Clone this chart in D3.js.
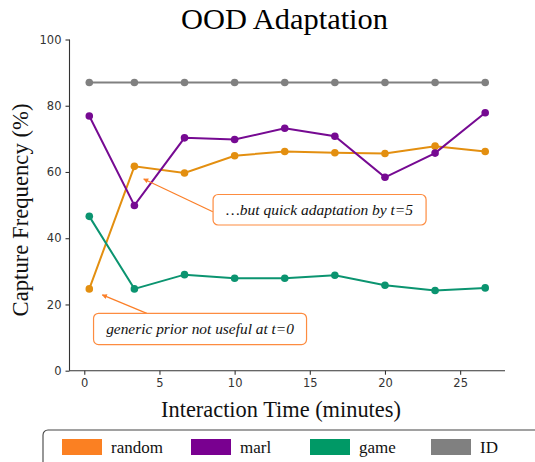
<!DOCTYPE html>
<html><head><meta charset="utf-8">
<script src="https://cdn.jsdelivr.net/npm/d3@7"></script>
<style>body{margin:0;background:#fff}svg{display:block}</style>
</head><body>
<svg id="c" width="535" height="462"></svg>
<script>
const times = [1/3, 10/3, 20/3, 10, 40/3, 50/3, 20, 70/3, 80/3];
const seriesNames = ["random", "marl", "game", "ID"];
const randomVals = [24.7, 61.7, 59.7, 64.9, 66.2, 65.8, 65.6, 67.8, 66.2];
const marlVals   = [76.9, 49.9, 70.3, 69.8, 73.2, 70.8, 58.4, 65.7, 77.9];
const gameVals   = [46.6, 24.7, 29.0, 27.9, 27.9, 28.8, 25.8, 24.2, 25.0];
const idVals     = [87, 87, 87, 87, 87, 87, 87, 87, 87];
const xTicks = [0, 5, 10, 15, 20, 25];
const yTicks = [0, 20, 40, 60, 80, 100];
const lineColors   = ["#e38f10", "#760a92", "#0b9470", "#808080"];
const legendColors = ["#fb8022", "#790090", "#009966", "#808080"];
const annTexts  = ["\u2026but quick adaptation by t=5", "generic prior not useful at t=0"];
const annTarget = [[3.95, 57.9], [1.2, 22.9]];   // arrow head (data)
const annCenter = [[15.65, 48.6], [7.7, 12.6]];  // box centre (data)
const annTail   = [[8.55, 48.0], [4.16, 17.3]];  // arrow tail (data)

const svg = d3.select("#c");
const x = d3.scaleLinear().domain([-0.983, 27.983]).range([69.5, 505]);
const y = d3.scaleLinear().domain([0, 100]).range([370.7, 39.5]);
const serif = "'Liberation Serif', 'DejaVu Serif', serif";

function fit(sel, w){ const n = sel.node(); const fs = parseFloat(sel.attr("font-size")); const l = n.getComputedTextLength(); sel.attr("font-size", fs * w / l); }

// axes
const ax = svg.append("g").attr("transform", `translate(0,${y(0)})`)
  .call(d3.axisBottom(x).tickValues(xTicks).tickSize(4).tickPadding(4).tickFormat(d3.format("d")));
const ay = svg.append("g").attr("transform", `translate(${x.range()[0]},0)`)
  .call(d3.axisLeft(y).tickValues(yTicks).tickSize(4).tickPadding(4).tickFormat(d3.format("d")));
[ax, ay].forEach(g => {
  g.selectAll("path, line").attr("stroke", "#333").attr("stroke-width", 1.1);
  g.selectAll("text").attr("fill", "#333").attr("font-size", 11.5).attr("font-family", "'DejaVu Sans', sans-serif");
});
ax.select(".domain").attr("d", `M${x.range()[0]},0H${x.range()[1]}`);
ay.select(".domain").attr("d", `M0,${y.range()[0]}V${y.range()[1]}`);

// series
const all = [randomVals, marlVals, gameVals, idVals];
const order = [3, 0, 1, 2];
const line = d3.line().x((d, i) => x(times[i])).y(d => y(d));
order.forEach(k => {
  const g = svg.append("g");
  g.append("path").attr("d", line(all[k])).attr("fill", "none").attr("stroke", lineColors[k]).attr("stroke-width", 2);
  g.selectAll("circle").data(all[k]).join("circle")
    .attr("cx", (d, i) => x(times[i])).attr("cy", d => y(d)).attr("r", 3.8).attr("fill", lineColors[k]);
});

// annotations
const defs = svg.append("defs");
defs.append("marker").attr("id", "ah").attr("viewBox", "0 0 10 10").attr("refX", 9).attr("refY", 5)
  .attr("markerWidth", 6).attr("markerHeight", 5).attr("orient", "auto").attr("markerUnits", "userSpaceOnUse")
  .append("path").attr("d", "M0,0L10,5L0,10z").attr("fill", "#fb7f28");
const annW = [213, 213], annH = [30.5, 31.3], annTW = [187, 188];
annTexts.forEach((t, i) => {
  svg.append("line").attr("x1", x(annTail[i][0])).attr("y1", y(annTail[i][1]))
    .attr("x2", x(annTarget[i][0])).attr("y2", y(annTarget[i][1]))
    .attr("stroke", "#fb7f28").attr("stroke-width", 1.2).attr("marker-end", "url(#ah)");
  const cx = x(annCenter[i][0]), cy = y(annCenter[i][1]);
  svg.append("rect").attr("x", cx - annW[i] / 2).attr("y", cy - annH[i] / 2).attr("width", annW[i]).attr("height", annH[i])
    .attr("rx", 5).attr("fill", "#fff").attr("stroke", "#fd8c40").attr("stroke-width", 1.2);
  const tx = svg.append("text").attr("x", cx).attr("y", cy + 5.5).attr("text-anchor", "middle")
    .attr("font-family", serif).attr("font-style", "italic").attr("font-size", 16).attr("fill", "#111").text(t);
  fit(tx, annTW[i]);
});

// title & labels
const title = svg.append("text").attr("x", 284.5).attr("y", 29).attr("text-anchor", "middle")
  .attr("font-family", serif).attr("font-size", 28).attr("fill", "#000").text("OOD Adaptation");
fit(title, 207);
const xl = svg.append("text").attr("x", 281).attr("y", 416.5).attr("text-anchor", "middle")
  .attr("font-family", serif).attr("font-size", 19).attr("fill", "#111").text("Interaction Time (minutes)");
fit(xl, 240);
const yl = svg.append("text").attr("transform", "translate(27.5,210) rotate(-90)").attr("text-anchor", "middle")
  .attr("font-family", serif).attr("font-size", 19).attr("fill", "#111").text("Capture Frequency (%)");
fit(yl, 213);

// legend
svg.append("rect").attr("x", 43).attr("y", 430).attr("width", 560).attr("height", 60).attr("rx", 5)
  .attr("fill", "#fff").attr("stroke", "#444").attr("stroke-width", 1.1);
const legX = [62, 191, 310, 431];
seriesNames.forEach((n, i) => {
  svg.append("rect").attr("x", legX[i]).attr("y", 439).attr("width", 40).attr("height", 16).attr("fill", legendColors[i]);
  svg.append("text").attr("x", legX[i] + 49).attr("y", 452.5).attr("font-family", serif).attr("font-size", 17)
    .attr("fill", "#111").text(n);
});
</script>
</body></html>
